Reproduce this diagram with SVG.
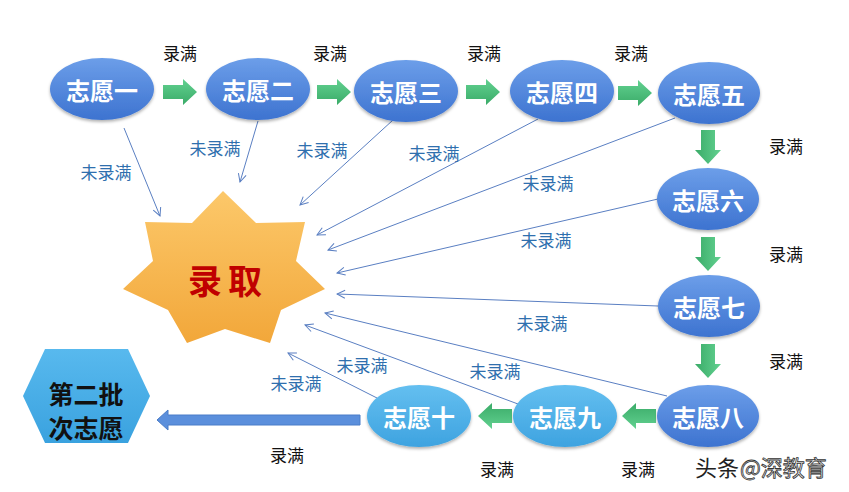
<svg xmlns="http://www.w3.org/2000/svg" width="849" height="492" viewBox="0 0 849 492">
<defs>
<linearGradient id="gBlue" x1="0" y1="0" x2="0" y2="1"><stop offset="0" stop-color="#6c9ee9"/><stop offset="1" stop-color="#3d73d0"/></linearGradient>
<linearGradient id="gSky" x1="0" y1="0" x2="0" y2="1"><stop offset="0" stop-color="#64bff0"/><stop offset="1" stop-color="#3ea3e0"/></linearGradient>
<linearGradient id="gHex" x1="0" y1="0" x2="0" y2="1"><stop offset="0" stop-color="#58b9ee"/><stop offset="1" stop-color="#3aa2df"/></linearGradient>
<linearGradient id="gStar" x1="0" y1="0" x2="0" y2="1"><stop offset="0" stop-color="#fcc86a"/><stop offset="1" stop-color="#f2a73a"/></linearGradient>
<linearGradient id="gGreen" x1="0" y1="0" x2="0" y2="1"><stop offset="0" stop-color="#62d190"/><stop offset="1" stop-color="#3aab68"/></linearGradient>
<filter id="sh" x="-20%" y="-20%" width="140%" height="150%"><feDropShadow dx="0" dy="2" stdDeviation="1.5" flood-color="#000" flood-opacity="0.3"/></filter>
<marker id="ah" markerWidth="10" markerHeight="10" refX="9" refY="5" orient="auto" markerUnits="userSpaceOnUse"><path d="M1,1 L9,5 L1,9" fill="none" stroke="#5a7fc2" stroke-width="1"/></marker>
<path id="garrow" d="M0,-7 H20 V-13 L34,0 L20,13 V7 H0 Z"/>
</defs>
<style>
.node{fill:url(#gBlue);filter:url(#sh)}
.sky{fill:url(#gSky);filter:url(#sh)}
.nt{font-family:"Noto Sans CJK SC",sans-serif;font-weight:bold;font-size:24px;fill:#fff;text-anchor:middle}
.lb{font-family:"Noto Sans CJK SC",sans-serif;font-size:17px;fill:#111;text-anchor:middle}
.ul{font-family:"Noto Sans CJK SC",sans-serif;font-size:17px;fill:#2f6fae;text-anchor:middle}
.con{stroke:#5a7fc2;stroke-width:1;fill:none;marker-end:url(#ah)}
.ga{fill:url(#gGreen)}
</style>
<rect width="849" height="492" fill="#fff"/>

<g id="connectors">
<line class="con" x1="124" y1="128" x2="160" y2="216"/>
<line class="con" x1="258" y1="121" x2="240" y2="182"/>
<line class="con" x1="393" y1="120" x2="300" y2="205"/>
<line class="con" x1="538" y1="119" x2="317" y2="235"/>
<line class="con" x1="675" y1="118" x2="328" y2="250"/>
<line class="con" x1="658" y1="199" x2="337" y2="273"/>
<line class="con" x1="658" y1="306" x2="337" y2="294"/>
<line class="con" x1="667" y1="396" x2="325" y2="313"/>
<line class="con" x1="518" y1="404" x2="305" y2="325"/>
<line class="con" x1="377" y1="398" x2="288" y2="353"/>
<use href="#garrow" class="ga" transform="translate(163,92)"/>
<use href="#garrow" class="ga" transform="translate(317,92)"/>
<use href="#garrow" class="ga" transform="translate(466,92)"/>
<use href="#garrow" class="ga" transform="translate(618,93)"/>
<use href="#garrow" class="ga" transform="translate(708,130) rotate(90)"/>
<use href="#garrow" class="ga" transform="translate(708,237) rotate(90)"/>
<use href="#garrow" class="ga" transform="translate(708,344) rotate(90)"/>
<use href="#garrow" class="ga" transform="translate(656,416) rotate(180)"/>
<use href="#garrow" class="ga" transform="translate(512,416) rotate(180)"/>
<path d="M360,415 H168 V410 L157,420 L168,430 V425 H360 Z" fill="#5b8fdc" stroke="#4a7cc8" stroke-width="1"/>
</g>

<g id="labels">
<text class="lb" x="180" y="60">录满</text>
<text class="lb" x="330" y="60">录满</text>
<text class="lb" x="484" y="60">录满</text>
<text class="lb" x="631" y="60">录满</text>
<text class="lb" x="786" y="153">录满</text>
<text class="lb" x="786" y="261">录满</text>
<text class="lb" x="786" y="368">录满</text>
<text class="lb" x="638" y="476">录满</text>
<text class="lb" x="497" y="476">录满</text>
<text class="lb" x="287" y="462">录满</text>
<text class="ul" x="106" y="179">未录满</text>
<text class="ul" x="215" y="155">未录满</text>
<text class="ul" x="322" y="157">未录满</text>
<text class="ul" x="434" y="160">未录满</text>
<text class="ul" x="548" y="190">未录满</text>
<text class="ul" x="546" y="247">未录满</text>
<text class="ul" x="542" y="330">未录满</text>
<text class="ul" x="495" y="378">未录满</text>
<text class="ul" x="362" y="372">未录满</text>
<text class="ul" x="296" y="390">未录满</text>
</g>

<g id="n1"><ellipse class="node" cx="102" cy="89" rx="52" ry="31"/><text class="nt" x="102" y="100">志愿一</text></g>
<g id="n2"><ellipse class="node" cx="258" cy="89" rx="52" ry="31"/><text class="nt" x="258" y="100">志愿二</text></g>
<g id="n3"><ellipse class="node" cx="406" cy="91" rx="52" ry="31"/><text class="nt" x="406" y="102">志愿三</text></g>
<g id="n4"><ellipse class="node" cx="562" cy="91" rx="52" ry="31"/><text class="nt" x="562" y="102">志愿四</text></g>
<g id="n5"><ellipse class="node" cx="709" cy="93" rx="51" ry="31"/><text class="nt" x="709" y="104">志愿五</text></g>
<g id="n6"><ellipse class="node" cx="708" cy="199" rx="51" ry="31"/><text class="nt" x="708" y="210">志愿六</text></g>
<g id="n7"><ellipse class="node" cx="709" cy="306" rx="51" ry="31"/><text class="nt" x="709" y="317">志愿七</text></g>
<g id="n8"><ellipse class="node" cx="708" cy="416" rx="51" ry="31"/><text class="nt" x="708" y="427">志愿八</text></g>
<g id="n9"><ellipse class="sky" cx="565" cy="416" rx="52" ry="31"/><text class="nt" x="565" y="427">志愿九</text></g>
<g id="n10"><ellipse class="sky" cx="419" cy="416" rx="52" ry="31"/><text class="nt" x="419" y="427">志愿十</text></g>

<g id="star">
<polygon points="223,191 256,223 305,222 296,261 325,289 281,310 270,343 225,329 187,343 168,310 123,289 153,261 145,222 192,223" fill="url(#gStar)"/>
<text x="228" y="294" font-family="Noto Sans CJK SC,sans-serif" font-weight="bold" font-size="34" fill="#c00000" text-anchor="middle" letter-spacing="6">录取</text>
</g>

<g id="hex">
<polygon points="45,349 128,349 150,396 128,443 45,443 23,396" fill="url(#gHex)"/>
<text x="86" y="404" font-family="Noto Sans CJK SC,sans-serif" font-weight="bold" font-size="25" fill="#111" text-anchor="middle">第二批</text>
<text x="86" y="438" font-family="Noto Sans CJK SC,sans-serif" font-weight="bold" font-size="25" fill="#111" text-anchor="middle">次志愿</text>
</g>

<g id="watermark" font-family="Noto Sans CJK SC,sans-serif" font-size="22">
<text x="695" y="476" fill="#222">头条</text>
<text x="740" y="476" fill="#eeeeee" stroke="#333" stroke-width="0.8">@深教育</text>
</g>
</svg>
